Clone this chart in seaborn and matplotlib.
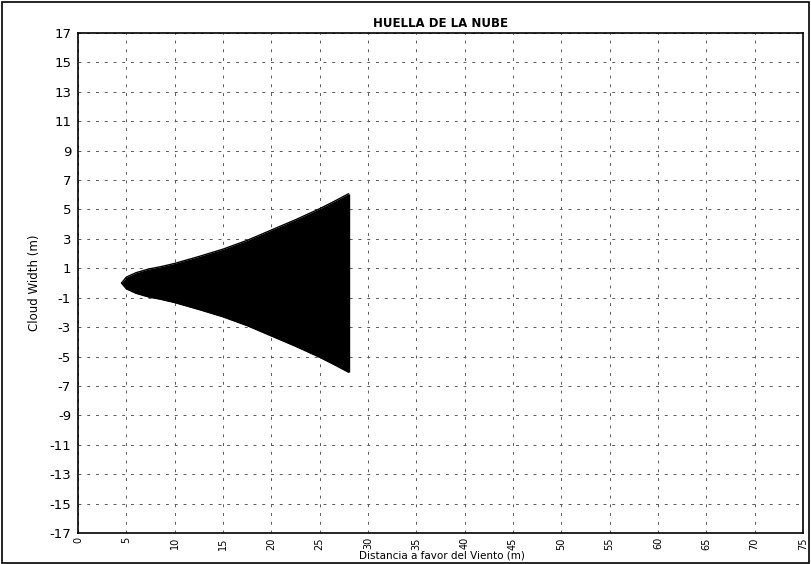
import numpy as np
import pandas as pd
import seaborn as sns
from matplotlib import pyplot as plt
from matplotlib.patches import Rectangle

# cloud footprint (half width, symmetric about y=0)
distance = [4.5, 5.0, 6.0, 7.3, 8.5, 10.0, 12.5, 15.0, 17.5, 20.0, 22.5, 25.0, 26.5, 28.0]
half_width = [0.0, 0.4, 0.7, 0.95, 1.1, 1.33, 1.8, 2.3, 2.9, 3.6, 4.3, 5.05, 5.55, 6.07]

x_ticks = list(range(0, 80, 5))
y_ticks = list(range(-17, 18, 2))

title = "HUELLA DE LA NUBE"
xlabel = "Distancia a favor del Viento (m)"
ylabel = "Cloud Width (m)"

df = pd.DataFrame({'x': distance, 'upper': half_width})
df['lower'] = -df['upper']

sns.set_style('white', {'text.color': 'black', 'xtick.color': 'black',
                        'ytick.color': 'black', 'axes.labelcolor': 'black'})
plt.rcParams['font.family'] = ['DejaVu Sans']

fig = plt.figure(figsize=(8.11, 5.64), dpi=100)
ax = fig.add_axes([0.0962, 0.055, 0.8938, 0.8865])

ax.fill_between(df['x'], df['lower'], df['upper'], color='black', lw=0)
sns.lineplot(x='x', y='upper', data=df, ax=ax, color='black', lw=1)
sns.lineplot(x='x', y='lower', data=df, ax=ax, color='black', lw=1)
ax.vlines(df['x'].iloc[-1], df['lower'].iloc[-1], df['upper'].iloc[-1], color='black', lw=1)

ax.set_xlim(0, 75)
ax.set_ylim(-17, 17)
ax.set_xticks(x_ticks)
ax.set_yticks(y_ticks)
ax.set_xticklabels([str(t) for t in x_ticks], rotation=90, fontsize=7)
ax.set_yticklabels([str(t) for t in y_ticks], fontsize=9.5)
ax.tick_params(axis='y', length=3, width=0.8, color='black', direction='out', pad=2)
ax.tick_params(axis='x', length=2, width=0.8, color='black', direction='out', pad=1)
ax.grid(True, color='0.35', linestyle=(0, (3, 6)), lw=0.7)
ax.set_axisbelow(True)
for s in ax.spines.values():
    s.set_color('black')
    s.set_linewidth(1.2)

ax.set_xlabel('')
fig.text(0.545, 1 - 556 / 564, xlabel, fontsize=7.5, ha='center', va='center')
ax.set_ylabel(ylabel, fontsize=8.5, labelpad=6)
ax.set_title(title, fontsize=8.5, pad=4, fontweight='bold')

# outer frame like the original screenshot
fig.patches.append(Rectangle((0.002, 0.002), 0.996, 0.994, transform=fig.transFigure,
                             fill=False, edgecolor='black', lw=1.2))

fig.savefig('out.png', dpi=100)
